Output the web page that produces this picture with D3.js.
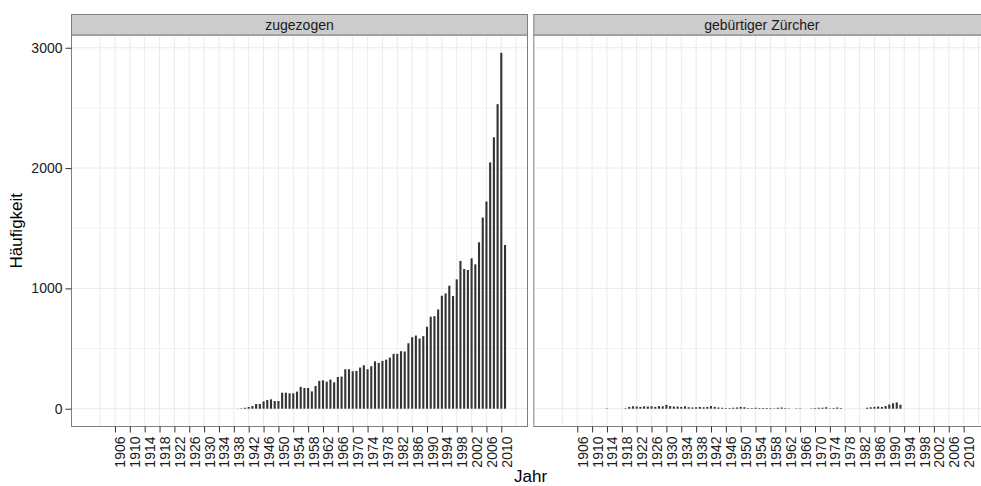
<!DOCTYPE html>
<html><head><meta charset="utf-8">
<script src="https://cdn.jsdelivr.net/npm/d3@7"></script>
<style>
body{margin:0;background:#fff}
text{font-family:"Liberation Sans",Arial,Helvetica,sans-serif}
</style>
</head><body>
<svg id="c" width="981" height="486"></svg>
<script>
// ---------- data ----------
const years = d3.range(1900, 2012);
const panels = ["zugezogen", "gebürtiger Zürcher"];
// counts per year 1900..2011
const zugezogen = [
  0,0,0,0,0,0,0,0,0,0,            // 1900-1909
  0,0,0,0,0,0,0,0,0,0,            // 1910-1919
  0,0,0,0,0,0,0,0,0,0,            // 1920-1929
  0,0,0,0,0,0,0,0,0,1,            // 1930-1939
  3,8,14,22,39,39,61,72,78,64,    // 1940-1949
  64,133,133,128,128,142,181,172,172,144, // 1950-1959
  189,231,236,225,242,219,264,267,328,328, // 1960-1969
  311,314,342,361,328,353,394,381,397,408, // 1970-1979
  425,456,456,478,475,544,594,608,583,603, // 1980-1989
  681,764,769,825,939,958,1022,936,1075,1228, // 1990-1999
  1161,1153,1250,1200,1383,1589,1722,2047,2256,2531, // 2000-2009
  2958,1361                        // 2010-2011
];
const gebuertig = [
  0,0,0,0,0,0,0,0,0,0,            // 1900-1909
  0,0,0,0,3,0,0,0,0,4,            // 1910-1919
  15,20,18,15,20,18,20,15,22,20,  // 1920-1929
  32,22,18,18,15,20,12,10,12,15,  // 1930-1939
  12,15,22,15,10,8,5,5,8,10,      // 1940-1949
  15,12,5,5,8,5,5,6,5,3,          // 1950-1959
  8,10,5,3,0,3,3,0,0,3,           // 1960-1969
  5,8,8,12,3,5,10,5,0,0,          // 1970-1979
  0,0,0,0,8,12,15,18,14,22,       // 1980-1989
  35,45,52,33,0,0,0,0,0,0,        // 1990-1999
  0,0,0,0,0,0,0,0,0,0,            // 2000-2009
  0,0                             // 2010-2011
];
const series = [zugezogen, gebuertig];
const xTickValues = d3.range(1906, 2011, 4);
const xGridValues = d3.range(1902, 2015, 4);
const yTickValues = [0, 1000, 2000, 3000];
const yMinorValues = [500, 1500, 2500];

// ---------- layout ----------
const svg = d3.select("#c");
const panelTop = 35, panelBottom = 426.5, stripTop = 14.5;
const panelW = 456;
const panelX = [71.5, 533.8];
const font = 14;

const yMax = d3.max(zugezogen);
const y = d3.scaleLinear().domain([-0.05 * yMax, 1.05 * yMax]).range([panelBottom, panelTop]);

panels.forEach((name, i) => {
  const x = d3.scaleLinear().domain([1894.3, 2017.05]).range([panelX[i], panelX[i] + panelW]);
  const g = svg.append("g");
  g.append("rect").attr("x", panelX[i]).attr("y", panelTop).attr("width", panelW)
    .attr("height", panelBottom - panelTop).attr("fill", "#fff");
  // minor horizontal grid
  g.selectAll(".hmin").data(yMinorValues).join("line")
    .attr("x1", panelX[i]).attr("x2", panelX[i] + panelW)
    .attr("y1", d => y(d)).attr("y2", d => y(d))
    .attr("stroke", "#F3F3F3").attr("stroke-width", 1);
  // vertical grid
  g.selectAll(".vg").data(xGridValues).join("line")
    .attr("x1", d => x(d)).attr("x2", d => x(d))
    .attr("y1", panelTop).attr("y2", panelBottom)
    .attr("stroke", "#EBEBEB").attr("stroke-width", 1);
  // major horizontal grid
  g.selectAll(".hmaj").data(yTickValues).join("line")
    .attr("x1", panelX[i]).attr("x2", panelX[i] + panelW)
    .attr("y1", d => y(d)).attr("y2", d => y(d))
    .attr("stroke", "#EBEBEB").attr("stroke-width", 1);
  // bars
  const bw = 2.1;
  g.selectAll(".bar").data(years.map((yr, k) => ({yr, v: series[i][k]})).filter(d => d.v > 0))
    .join("rect")
    .attr("x", d => x(d.yr) - bw / 2).attr("width", bw)
    .attr("y", d => y(d.v)).attr("height", d => y(0) - y(d.v))
    .attr("fill", "#333333");
  // panel border
  g.append("rect").attr("x", panelX[i]).attr("y", panelTop).attr("width", panelW)
    .attr("height", panelBottom - panelTop).attr("fill", "none").attr("stroke", "#7F7F7F").attr("stroke-width", 1);
  // strip
  g.append("rect").attr("x", panelX[i]).attr("y", stripTop).attr("width", panelW)
    .attr("height", panelTop - stripTop).attr("fill", "#CCCCCC").attr("stroke", "#7F7F7F").attr("stroke-width", 1);
  g.append("text").attr("x", panelX[i] + panelW / 2).attr("y", (stripTop + panelTop) / 2 + 5)
    .attr("text-anchor", "middle").attr("font-size", font).attr("fill", "#1a1a1a").text(name);
  // x axis
  const ax = g.append("g").attr("transform", `translate(0,${panelBottom})`)
    .call(d3.axisBottom(x).tickValues(xTickValues).tickFormat(d3.format("d")).tickSize(6).tickSizeOuter(0));
  ax.select(".domain").remove();
  ax.selectAll(".tick line").attr("stroke", "#333").attr("stroke-width", 1);
  ax.selectAll(".tick text")
    .attr("font-size", font).attr("fill", "#1a1a1a").attr("font-family", null)
    .attr("text-anchor", "end").attr("dy", null).attr("y", 0)
    .attr("transform", "translate(10,10) rotate(-90)");
});

// y axis (left)
const ay = svg.append("g").attr("transform", `translate(${panelX[0]},0)`)
  .call(d3.axisLeft(y).tickValues(yTickValues).tickFormat(d3.format("d")).tickSize(6).tickPadding(3).tickSizeOuter(0));
ay.select(".domain").remove();
ay.selectAll(".tick line").attr("stroke", "#333");
ay.selectAll(".tick text").attr("font-size", font).attr("fill", "#1a1a1a").attr("font-family", null);

// axis titles
svg.append("text").attr("transform", `translate(22,${(panelTop + panelBottom) / 2}) rotate(-90)`)
  .attr("text-anchor", "middle").attr("font-size", 17).attr("fill", "#000").text("Häufigkeit");
svg.append("text").attr("x", (panelX[0] + panelX[1] + panelW) / 2).attr("y", 482)
  .attr("text-anchor", "middle").attr("font-size", 17).attr("fill", "#000").text("Jahr");
</script>
</body></html>
